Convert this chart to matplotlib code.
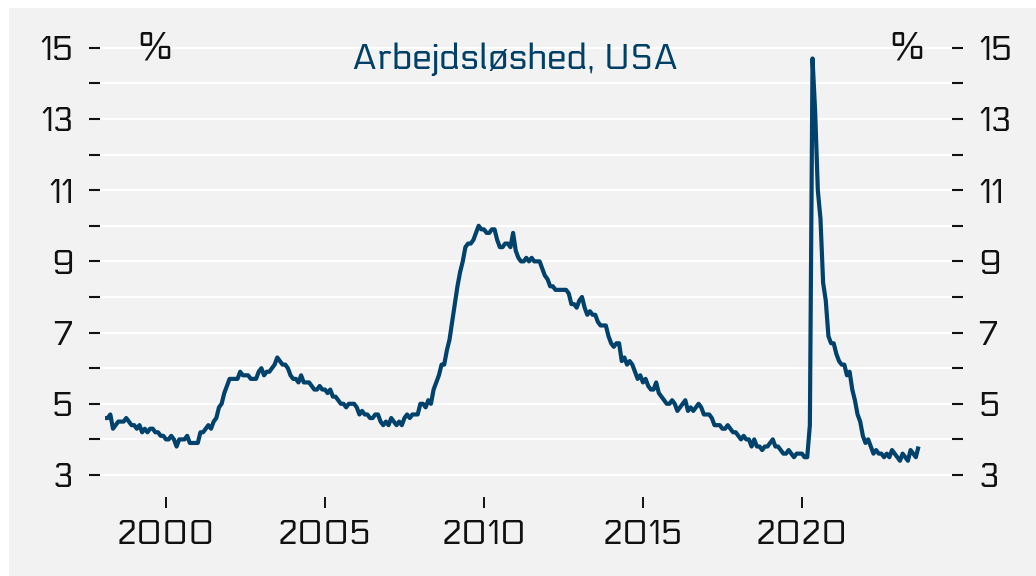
import matplotlib
matplotlib.use("Agg")
import matplotlib.pyplot as plt
from matplotlib.patches import Rectangle
import numpy as np

# Monthly US unemployment rate (%), Jan 1998 - Aug 2023
start_year = 1998
rate = [
    4.6, 4.6, 4.7, 4.3, 4.4, 4.5, 4.5, 4.5, 4.6, 4.5, 4.4, 4.4,   # 1998
    4.3, 4.4, 4.2, 4.3, 4.2, 4.3, 4.3, 4.2, 4.2, 4.1, 4.1, 4.0,   # 1999
    4.0, 4.1, 4.0, 3.8, 4.0, 4.0, 4.0, 4.1, 3.9, 3.9, 3.9, 3.9,   # 2000
    4.2, 4.2, 4.3, 4.4, 4.3, 4.5, 4.6, 4.9, 5.0, 5.3, 5.5, 5.7,   # 2001
    5.7, 5.7, 5.7, 5.9, 5.8, 5.8, 5.8, 5.7, 5.7, 5.7, 5.9, 6.0,   # 2002
    5.8, 5.9, 5.9, 6.0, 6.1, 6.3, 6.2, 6.1, 6.1, 6.0, 5.8, 5.7,   # 2003
    5.7, 5.6, 5.8, 5.6, 5.6, 5.6, 5.5, 5.4, 5.4, 5.5, 5.4, 5.4,   # 2004
    5.3, 5.4, 5.2, 5.2, 5.1, 5.0, 5.0, 4.9, 5.0, 5.0, 5.0, 4.9,   # 2005
    4.7, 4.8, 4.7, 4.7, 4.6, 4.6, 4.7, 4.7, 4.5, 4.4, 4.5, 4.4,   # 2006
    4.6, 4.5, 4.4, 4.5, 4.4, 4.6, 4.7, 4.6, 4.7, 4.7, 4.7, 5.0,   # 2007
    5.0, 4.9, 5.1, 5.0, 5.4, 5.6, 5.8, 6.1, 6.1, 6.5, 6.8, 7.3,   # 2008
    7.8, 8.3, 8.7, 9.0, 9.4, 9.5, 9.5, 9.6, 9.8, 10.0, 9.9, 9.9,  # 2009
    9.8, 9.8, 9.9, 9.9, 9.6, 9.4, 9.4, 9.5, 9.5, 9.4, 9.8, 9.3,   # 2010
    9.1, 9.0, 9.0, 9.1, 9.0, 9.1, 9.0, 9.0, 9.0, 8.8, 8.6, 8.5,   # 2011
    8.3, 8.3, 8.2, 8.2, 8.2, 8.2, 8.2, 8.1, 7.8, 7.8, 7.7, 7.9,   # 2012
    8.0, 7.7, 7.5, 7.6, 7.5, 7.5, 7.3, 7.2, 7.2, 7.2, 6.9, 6.7,   # 2013
    6.6, 6.7, 6.7, 6.2, 6.3, 6.1, 6.2, 6.1, 5.9, 5.7, 5.8, 5.6,   # 2014
    5.7, 5.5, 5.4, 5.4, 5.6, 5.3, 5.2, 5.1, 5.0, 5.0, 5.1, 5.0,   # 2015
    4.8, 4.9, 5.0, 5.1, 4.8, 4.9, 4.8, 4.9, 5.0, 4.9, 4.7, 4.7,   # 2016
    4.7, 4.6, 4.4, 4.4, 4.4, 4.3, 4.3, 4.4, 4.3, 4.2, 4.2, 4.1,   # 2017
    4.0, 4.1, 4.0, 4.0, 3.8, 4.0, 3.8, 3.8, 3.7, 3.8, 3.8, 3.9,   # 2018
    4.0, 3.8, 3.8, 3.7, 3.6, 3.6, 3.7, 3.6, 3.5, 3.6, 3.6, 3.6,   # 2019
    3.5, 3.5, 4.4, 14.7, 13.2, 11.0, 10.2, 8.4, 7.9, 6.9, 6.7, 6.7,  # 2020
    6.4, 6.2, 6.1, 6.1, 5.8, 5.9, 5.4, 5.1, 4.7, 4.5, 4.1, 3.9,   # 2021
    4.0, 3.8, 3.6, 3.7, 3.6, 3.6, 3.5, 3.6, 3.5, 3.7, 3.6, 3.5,   # 2022
    3.4, 3.6, 3.5, 3.4, 3.7, 3.6, 3.5, 3.8,                       # 2023
]
x_ticks = [2000, 2005, 2010, 2015, 2020]
y_ticks = list(range(3, 16))
y_labels = [str(v) if v % 2 == 1 else "" for v in y_ticks]
title = "Arbejdsløshed, USA"
unit = "%"

W, H = 1036, 576
DPI = 100
plt.rcParams['font.family'] = ['Electrolize', 'DejaVu Sans']

fig = plt.figure(figsize=(W / DPI, H / DPI), dpi=DPI, facecolor="white")
bg = "#f2f2f2"
fig.patches.append(Rectangle((9 / W, 0), 1 - 9 / W, (H - 8) / H,
                             transform=fig.transFigure, facecolor=bg,
                             edgecolor="none", zorder=-10))

ax_left, ax_right = 100, 952
ax_top, ax_bottom = 26.4, 497
ax = fig.add_axes([ax_left / W, (H - ax_bottom) / H,
                   (ax_right - ax_left) / W, (ax_bottom - ax_top) / H])
ax.set_zorder(5)
ax.set_facecolor(bg)

dates = start_year + (np.arange(len(rate)) + 1.0) / 12.0
line_color = "#00426b"
ax.plot(dates, rate, color=line_color, lw=3.0, solid_joinstyle="round",
        solid_capstyle="butt", zorder=3)

ax.set_xlim(1997.925, 2024.72)
ax.set_ylim(2.382, 15.6)

for s in ax.spines.values():
    s.set_visible(False)

ax.set_yticks(y_ticks)
ax.set_yticklabels(y_labels)
ax.grid(axis="y", color="white", lw=1.6, zorder=1)
ax.grid(axis="x", visible=False)

fs = 24
ax.tick_params(axis="y", which="both", direction="out", length=8, width=1.5,
               pad=11, labelsize=fs, left=True, right=True,
               labelleft=True, labelright=True, colors="#111111")
ax.set_xticks(x_ticks)
ax.tick_params(axis="x", direction="out", length=8, width=1.4, pad=7.5,
               labelsize=fs, colors="#111111")

fig.text(155 / W, (H - 50) / H, unit, ha="center", va="center",
         fontsize=27, color="#111111", zorder=10)
fig.text(907 / W, (H - 50) / H, unit, ha="center", va="center",
         fontsize=27, color="#111111", zorder=10)
fig.text(515 / W, (H - 60) / H, title, ha="center", va="center",
         fontsize=26, color="#003f66", zorder=10)

fig.savefig("out.png", dpi=DPI, facecolor="white")
